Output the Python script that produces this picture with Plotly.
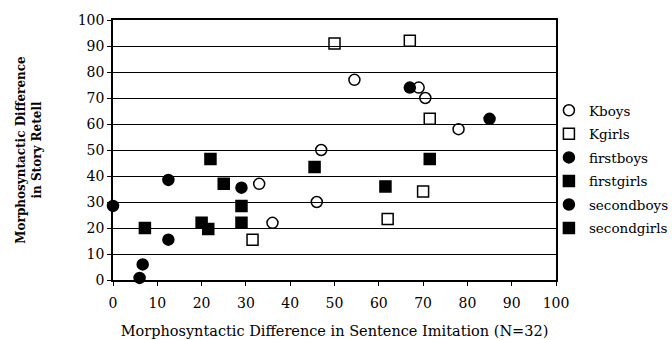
import plotly.graph_objects as go

# Data (x: Sentence Imitation, y: Story Retell)
kboys_x = [33, 36, 46, 47, 54.5, 69, 70.5, 78]
kboys_y = [37, 22, 30, 50, 77, 74, 70, 58]

kgirls_x = [31.5, 50, 62, 67, 70, 71.5]
kgirls_y = [15.5, 91, 23.5, 92, 34, 62]

firstboys_x = [67, 85, 12.5, 29]
firstboys_y = [74, 62, 38.5, 35.5]

firstgirls_x = [22, 45.5, 71.5, 61.5, 25]
firstgirls_y = [46.5, 43.5, 46.5, 36, 37]

secondboys_x = [0, 12.5, 6.7, 6]
secondboys_y = [28.5, 15.5, 6, 0.8]

secondgirls_x = [29, 7.2, 20, 21.5, 29]
secondgirls_y = [28.5, 20, 22, 19.6, 22]

tick_vals = list(range(0, 101, 10))

series = [
    ("Kboys", kboys_x, kboys_y, "circle-open"),
    ("Kgirls", kgirls_x, kgirls_y, "square-open"),
    ("firstboys", firstboys_x, firstboys_y, "circle"),
    ("firstgirls", firstgirls_x, firstgirls_y, "square"),
    ("secondboys", secondboys_x, secondboys_y, "circle"),
    ("secondgirls", secondgirls_x, secondgirls_y, "square"),
]

fig = go.Figure()
for name, xs, ys, sym in series:
    fig.add_trace(go.Scatter(
        x=xs, y=ys, mode="markers", name=name, legendgroup=name, cliponaxis=False,
        marker=dict(symbol=sym, size=11, color="black",
                    line=dict(color="black", width=1.5)),
    ))

serif = "DejaVu Serif, serif"
fig.update_layout(
    width=672, height=340,
    margin=dict(l=113, r=116, t=20, b=60, autoexpand=False),
    paper_bgcolor="white", plot_bgcolor="white",
    font=dict(family=serif, color="black", size=14),
    legend=dict(x=0.984, xanchor="left", y=0.425, yanchor="middle",
                font=dict(family=serif, size=13.5, color="black"),
                bgcolor="rgba(0,0,0,0)", itemwidth=30, tracegroupgap=3),
    xaxis=dict(range=[0, 100], tickvals=tick_vals, showgrid=False, zeroline=False,
               showline=True, linecolor="black", linewidth=1.5, mirror=True,
               ticks="outside", ticklen=4, tickcolor="black", ticklabelstandoff=5,
               tickfont=dict(family=serif, size=14),
               title=dict(text="Morphosyntactic Difference in Sentence Imitation (N=32)",
                          font=dict(family=serif, size=14.5), standoff=16)),
    yaxis=dict(range=[0, 100], tickvals=tick_vals, showgrid=True, gridcolor="black",
               gridwidth=1.1, zeroline=False,
               showline=True, linecolor="black", linewidth=1.5, mirror=True,
               ticks="outside", ticklen=4, tickcolor="black",
               tickfont=dict(family=serif, size=14),
               title=dict(text="<b>Morphosyntactic Difference<br>in Story Retell</b>",
                          font=dict(family=serif, size=12), standoff=34)),
)

fig.write_html("out.html")
